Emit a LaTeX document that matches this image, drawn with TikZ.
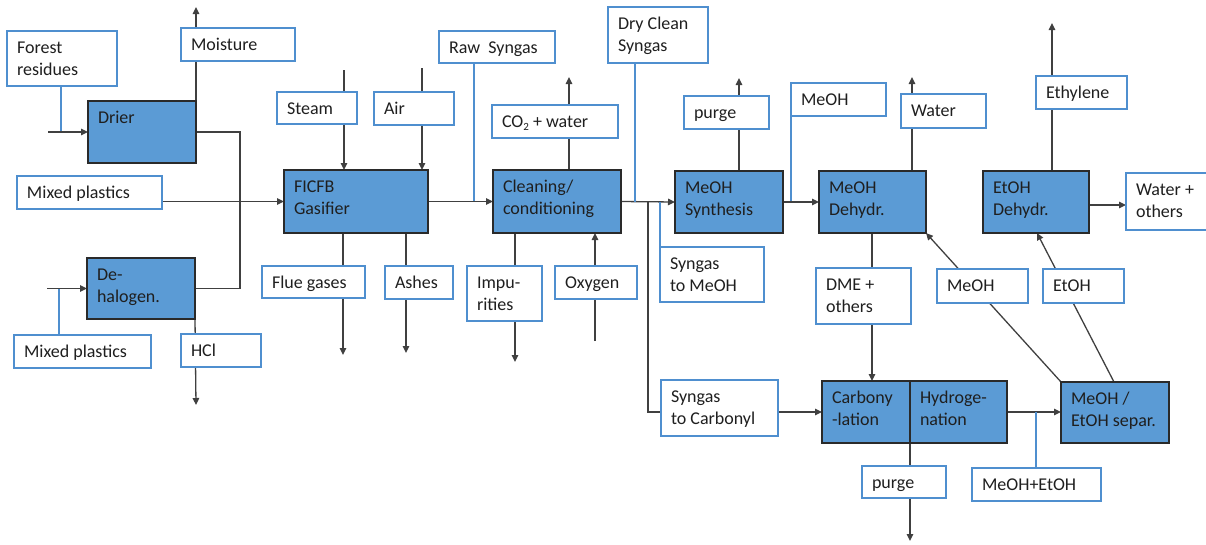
\documentclass[tikz,border=0pt]{standalone}
\usepackage{fontspec}
\setmainfont{Carlito}
\usetikzlibrary{arrows.meta}
\pgfdeclarelayer{bg}
\pgfsetlayers{bg,main}
\definecolor{pblue}{HTML}{5B9BD5}
\definecolor{lblue}{HTML}{4F8FCF}
\definecolor{dline}{HTML}{404040}
\definecolor{dedge}{HTML}{2A2A2A}
\tikzset{
  pbox/.style={fill=pblue, draw=dedge, line width=1.2pt},
  lbox/.style={fill=white, draw=lblue, line width=1.4pt},
  txt/.style={inner sep=0pt, outer sep=0pt, text=black!88,
    font=\fontsize{18}{22}\selectfont},
  ln/.style={draw=dline, line width=1.3pt},
  bln/.style={draw=lblue, line width=1.3pt},
  arr/.style={ln, -{Triangle[length=7pt,width=6.5pt]}},
}
\newcommand\bx[7]{%
  \node[#1, anchor=north west, inner sep=0pt, outer sep=0pt,
        minimum width={(#5-#3)*1pt}, minimum height={(#6-#4)*1pt}] (#2) at (#3,#4) {};
  \node[txt, anchor=base west] (#2-t) at ({#3+10},{#4+22.5})
    {\begin{tabular}[t]{@{}l@{}}#7\end{tabular}};}
\begin{document}
\begin{tikzpicture}[x=1pt,y=-1pt]
\useasboundingbox (0,0) rectangle (1206,544);
% process boxes
\bx{pbox}{drier}{88}{101}{196}{163}{Drier}
\bx{pbox}{dehal}{87}{258}{195}{319}{De-\\halogen.}
\bx{pbox}{fic}{284}{170}{428}{233}{FICFB\\Gasifier}
\bx{pbox}{clean}{493}{170}{621}{233}{Cleaning/\\conditioning}
\bx{pbox}{msyn}{675}{171}{783}{233}{MeOH\\Synthesis}
\bx{pbox}{mdeh}{819}{171}{926}{233}{MeOH\\Dehydr.}
\bx{pbox}{edeh}{983}{171}{1089}{233}{EtOH\\Dehydr.}
\bx{pbox}{carb}{822}{381}{910}{443}{Carbony\\-lation}
\bx{pbox}{hydr}{910}{381}{1007}{443}{Hydroge-\\nation}
\bx{pbox}{sep}{1061}{382}{1169}{443}{MeOH /\\EtOH separ.}
% label boxes
\bx{lbox}{forest}{7}{31}{117}{86}{Forest\\residues}
\bx{lbox}{moist}{181}{28}{295}{61}{Moisture}
\bx{lbox}{mixa}{17}{176}{162}{209}{Mixed plastics}
\bx{lbox}{mixb}{14}{335}{151}{368}{Mixed plastics}
\bx{lbox}{hcl}{181}{334}{261}{367}{HCl}
\bx{lbox}{steam}{277}{92}{357}{124}{Steam}
\bx{lbox}{air}{374}{92}{454}{125}{Air}
\bx{lbox}{raw}{439}{31}{555}{63}{Raw\ \ Syngas}
\bx{lbox}{cotwo}{492}{105}{618}{138}{CO\raisebox{-3pt}{\fontsize{11}{11}\selectfont 2} + water}
\bx{lbox}{flue}{262}{266}{365}{298}{Flue gases}
\bx{lbox}{ashes}{385}{266}{453}{299}{Ashes}
\bx{lbox}{impur}{467}{266}{542}{321}{Impu-\\rities}
\bx{lbox}{oxy}{555}{266}{637}{299}{Oxygen}
\bx{lbox}{dry}{608}{7}{708}{63}{Dry Clean\\Syngas}
\bx{lbox}{purgea}{684}{96}{769}{129}{purge}
\bx{lbox}{meoha}{791}{83}{886}{116}{MeOH}
\bx{lbox}{sgm}{660}{247}{764}{302}{Syngas\\to MeOH}
\bx{lbox}{sgc}{661}{380}{778}{436}{Syngas\\to Carbonyl}
\bx{lbox}{water}{901}{94}{986}{128}{Water}
\bx{lbox}{dme}{816}{268}{911}{324}{DME +\\others}
\bx{lbox}{ethyl}{1036}{76}{1127}{109}{Ethylene}
\bx{lbox}{wato}{1126}{173}{1212}{230}{Water +\\others}
\bx{lbox}{meohb}{937}{269}{1028}{303}{MeOH}
\bx{lbox}{etoh}{1043}{269}{1124}{303}{EtOH}
\bx{lbox}{purgeb}{862}{466}{946}{498}{purge}
\bx{lbox}{meet}{972}{468}{1101}{501}{MeOH+EtOH}
% free ends
\coordinate (forin) at (48,132);
\coordinate (moiout) at (196,7);
\coordinate (jdr) at (240,132);
\coordinate (dehin) at (47,288.5);
\coordinate (hclout) at (196,405);
\coordinate (stin) at (344,70);
\coordinate (airin) at (422,68);
\coordinate (cotout) at (569,77);
\coordinate (flout) at (343,355);
\coordinate (ashout) at (406,353);
\coordinate (impout) at (515,362);
\coordinate (oxin) at (595,341);
\coordinate (jbr) at (648,202);
\coordinate (puaout) at (739,78);
\coordinate (watout) at (912,77);
\coordinate (ethout) at (1052,23);
\coordinate (pubout) at (910,541);
\begin{pgfonlayer}{bg}
% drier
\draw[bln] (forest.south -| 61,0) -- (61,132);
\draw[arr] (forin) -- (drier.west |- forin);
\draw[arr] (drier.north east) -- (moiout);
\draw[ln] (drier.east |- jdr) -- (jdr) -- (jdr |- dehal.east) -- (dehal.east);
% dehalogen
\draw[bln] (mixb.north -| 59,0) -- (59,288.5);
\draw[arr] (dehin) -- (dehal.west);
\draw[arr] (dehal.south east) -- (hclout);
% gasifier
\draw[arr] (mixa.east |- fic.west) -- (fic.west);
\draw[arr] (stin) -- (stin |- fic.north);
\draw[arr] (airin) -- (airin |- fic.north);
\draw[arr] (flout |- fic.south) -- (flout);
\draw[arr] (ashout |- fic.south) -- (ashout);
\draw[bln] (raw.south -| 474,0) -- (474,202);
\draw[arr] (fic.east) -- (clean.west);
% cleaning
\draw[arr] (cotout |- clean.north) -- (cotout);
\draw[arr] (impout |- clean.south) -- (impout);
\draw[arr] (oxin) -- (oxin |- clean.south);
\draw[arr] (clean.east) -- (msyn.west);
\draw[bln] (dry.south -| 635,0) -- (635,202);
\draw[bln] (sgm.north west) -- (sgm.north west |- jbr);
\draw[ln] (jbr) -- (jbr |- carb.west) -- (sgc.west |- carb.west);
\draw[arr] (sgc.east |- carb.west) -- (carb.west);
% methanol
\draw[arr] (puaout |- msyn.north) -- (puaout);
\draw[bln] (meoha.south west) -- (meoha.south west |- msyn.east);
\draw[arr] (msyn.east) -- (mdeh.west);
\draw[arr] (watout |- mdeh.north) -- (watout);
\draw[arr] (mdeh.south -| 872,0) -- (carb.north -| 872,0);
\draw[arr] (sep.north west) -- (mdeh.south east);
\draw[arr] (sep.north -| 1114,0) -- (edeh.south -| 1037,0);
\draw[arr] (ethout |- edeh.north) -- (ethout);
\draw[arr] (edeh.east |- 0,205) -- (wato.west |- 0,205);
\draw[arr] (hydr.east |- 0,412) -- (sep.west |- 0,412);
\draw[bln] (meet.north -| 1036,0) -- (1036,412);
\draw[arr] (carb.south east) -- (pubout);
\end{pgfonlayer}
\end{tikzpicture}
\end{document}
